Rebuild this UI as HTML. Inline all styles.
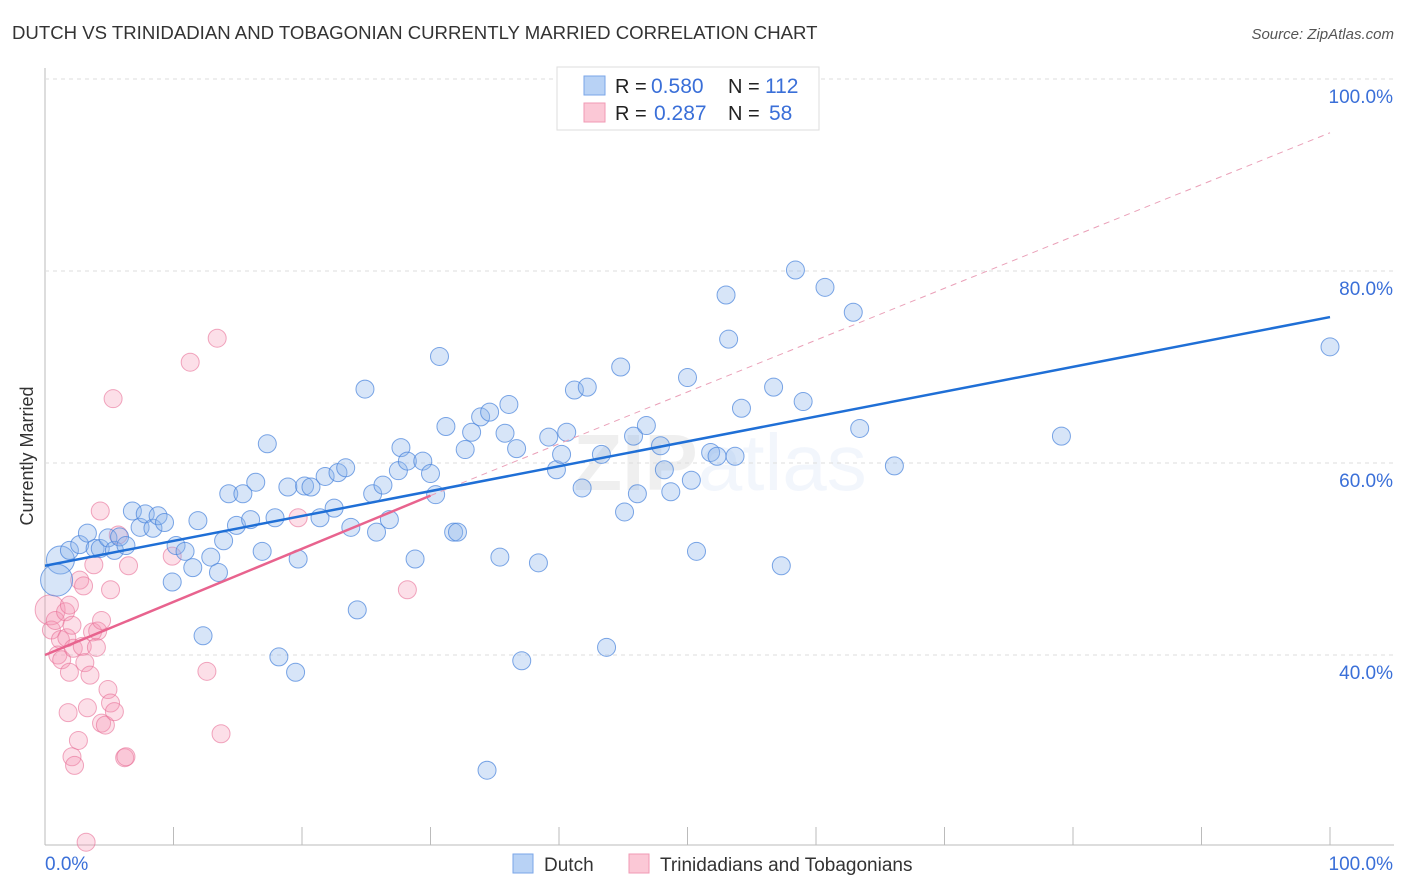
<!DOCTYPE html>
<html><head><meta charset="utf-8"><style>
body{margin:0;background:#fff;font-family:"Liberation Sans",sans-serif;}
svg{display:block}
</style></head><body>
<svg id="chart" width="1406" height="892">
<text x="12" y="39" font-size="18.6" fill="#333">DUTCH VS TRINIDADIAN AND TOBAGONIAN CURRENTLY MARRIED CORRELATION CHART</text>
<text x="1394" y="39" font-size="15" fill="#555" font-style="italic" text-anchor="end">Source: ZipAtlas.com</text>
<text x="33" y="456" font-size="18" fill="#333" text-anchor="middle" transform="rotate(-90 33 456)">Currently Married</text>
<text x="720" y="490" font-size="80" fill="#000" opacity="0.06" text-anchor="middle" font-weight="bold">ZIP<tspan font-weight="normal" fill="#3a6fd8" opacity="1">atlas</tspan></text>
<g id="grid"></g><g id="marks"></g><g id="lines"></g>
<g>
<rect x="557" y="67" width="262" height="63" fill="#fff" stroke="#ddd"/>
<rect x="584" y="76" width="21" height="19" fill="#b8d2f5" stroke="#7aa6e8"/>
<rect x="584" y="103" width="21" height="19" fill="#fbc8d6" stroke="#f09ab4"/>
<text x="615" y="93" font-size="20" fill="#222">R =</text>
<text x="651" y="93" font-size="21" fill="#3a6fd8">0.580</text>
<text x="728" y="93" font-size="20" fill="#222">N =</text>
<text x="765" y="93" font-size="21" fill="#3a6fd8">112</text>
<text x="615" y="120" font-size="20" fill="#222">R =</text>
<text x="654" y="120" font-size="21" fill="#3a6fd8">0.287</text>
<text x="728" y="120" font-size="20" fill="#222">N =</text>
<text x="769" y="120" font-size="21" fill="#3a6fd8">58</text>
</g>
<g>
<rect x="513" y="854" width="20" height="19" fill="#b8d2f5" stroke="#7aa6e8"/>
<text x="544" y="871" font-size="19" fill="#333">Dutch</text>
<rect x="629" y="854" width="20" height="19" fill="#fbc8d6" stroke="#f09ab4"/>
<text x="660" y="871" font-size="19" fill="#333">Trinidadians and Tobagonians</text>
</g>
</svg>
<script>
const dutchX=[1.2,0.9,1.9,2.7,3.3,3.9,4.3,4.9,5.4,5.8,6.3,6.8,7.4,7.8,8.4,8.8,9.3,9.9,10.2,10.9,11.5,11.9,12.3,12.9,13.5,13.9,14.3,14.9,15.4,16.0,16.4,16.9,17.3,17.9,18.2,18.9,19.5,19.7,20.2,20.7,21.4,21.8,22.5,22.8,23.4,23.8,24.3,24.9,25.5,25.8,26.3,26.8,27.5,27.7,28.2,28.8,29.4,30.0,30.4,30.7,31.2,31.8,32.1,32.7,33.2,33.9,34.4,34.6,35.4,35.8,36.1,36.7,37.1,38.4,39.2,39.8,40.2,40.6,41.2,41.8,42.2,43.3,43.7,44.8,45.1,45.8,46.1,46.8,47.9,48.2,48.7,50.0,50.3,50.7,51.8,52.3,53.0,53.2,53.7,54.2,56.7,57.3,58.4,59.0,60.7,62.9,63.4,66.1,79.1,100.0];
const dutchY=[49.9,47.8,50.9,51.5,52.7,51.1,51.1,52.2,50.9,52.3,51.4,55.0,53.3,54.7,53.2,54.5,53.8,47.6,51.4,50.8,49.1,54.0,42.0,50.2,48.6,51.9,56.8,53.5,56.8,54.1,58.0,50.8,62.0,54.3,39.8,57.5,38.2,50.0,57.6,57.5,54.3,58.6,55.3,59.0,59.5,53.3,44.7,67.7,56.8,52.8,57.7,54.1,59.2,61.6,60.2,50.0,60.2,58.9,56.7,71.1,63.8,52.8,52.8,61.4,63.2,64.8,28.0,65.3,50.2,63.1,66.1,61.5,39.4,49.6,62.7,59.3,60.9,63.2,67.6,57.4,67.9,60.9,40.8,70.0,54.9,62.8,56.8,63.9,61.8,59.3,57.0,68.9,58.2,50.8,61.1,60.7,77.5,72.9,60.7,65.7,67.9,49.3,80.1,66.4,78.3,75.7,63.6,59.7,62.8,72.1];
const triniX=[0.4,0.5,0.8,1.2,1.0,1.3,1.6,1.7,1.9,2.1,2.2,1.9,1.8,2.1,2.3,2.6,2.7,2.9,3.0,3.1,3.3,3.5,3.7,3.8,4.0,4.1,4.3,4.4,4.4,4.7,4.9,5.1,5.1,5.3,5.4,5.7,6.2,6.3,6.5,3.2,9.9,11.3,12.6,13.4,13.7,19.7,28.2];
const triniY=[44.7,42.6,43.6,41.6,40.0,39.5,44.5,41.8,45.2,43.1,40.7,38.2,34.0,29.4,28.5,31.1,47.8,40.9,47.2,39.2,34.5,37.9,42.4,49.4,40.8,42.5,55.0,43.6,32.9,32.7,36.4,46.8,35.0,66.7,34.1,52.5,29.3,29.4,49.3,20.5,50.3,70.5,38.3,73.0,31.8,54.3,46.8];
const dutchSize=[14,16];
const triniSize=[15];
const dutchLine=[[0,49.3],[100,75.2]];
const triniLine=[[0,40.0],[30,56.6]];
const triniDash=[[30,56.6],[100,94.4]];
const yTicks=[40,60,80,100];
const xTicks=[0,10,20,30,40,50,60,70,80,90,100];

const NS="http://www.w3.org/2000/svg";
function sx(v){return 45+v*12.85;}
function sy(v){return 79+(100-v)*9.6;}
function mk(tag,attrs,parent){const e=document.createElementNS(NS,tag);for(const k in attrs)e.setAttribute(k,attrs[k]);parent.appendChild(e);return e;}
const grid=document.getElementById('grid'),marks=document.getElementById('marks'),lines=document.getElementById('lines');
let ax=mk('line',{x1:45,y1:68,x2:45,y2:845,stroke:'#bbb'},grid);


let bx=mk('line',{x1:45,y1:845,x2:1394,y2:845,stroke:'#bbb'},grid);


yTicks.forEach(t=>{
 const g=mk('line',{x1:45,y1:sy(t),x2:1394,y2:sy(t),stroke:'#ddd','stroke-dasharray':'4,4'},grid);
 
 
 const l=mk('text',{x:1393,y:sy(t)+24,'font-size':19,fill:'#3a6fd8','text-anchor':'end'},grid);
 l.textContent=t.toFixed(1)+'%';
 
 
});
xTicks.forEach(t=>{
 const g=mk('line',{x1:sx(t),y1:827,x2:sx(t),y2:845,stroke:'#bbb'},grid);
 
 
});
[[0,'0.0%',45,'start'],[100,'100.0%',1393,'end']].forEach(a=>{
 const l=mk('text',{x:a[2],y:870,'font-size':19,fill:'#3a6fd8','text-anchor':a[3]},grid);
 l.textContent=a[1];
 
 
});
triniX.forEach((x,i)=>{
 const c=mk('circle',{cx:sx(x),cy:sy(triniY[i]),r:triniSize[i]||9,fill:'rgba(244,150,180,0.3)',stroke:'rgba(232,110,150,0.6)','stroke-width':1},marks);
 
 
});
dutchX.forEach((x,i)=>{
 const c=mk('circle',{cx:sx(x),cy:sy(dutchY[i]),r:dutchSize[i]||9,fill:'rgba(140,180,235,0.35)',stroke:'rgba(70,130,220,0.7)','stroke-width':1},marks);
 
 
});
let d=mk('line',{x1:sx(triniDash[0][0]),y1:sy(triniDash[0][1]),x2:sx(triniDash[1][0]),y2:sy(triniDash[1][1]),stroke:'#eaa0b8','stroke-dasharray':'6,5'},lines);


let bl=mk('line',{x1:sx(dutchLine[0][0]),y1:sy(dutchLine[0][1]),x2:sx(dutchLine[1][0]),y2:sy(dutchLine[1][1]),stroke:'#1f6fd6','stroke-width':2.5},lines);


let pl=mk('line',{x1:sx(triniLine[0][0]),y1:sy(triniLine[0][1]),x2:sx(triniLine[1][0]),y2:sy(triniLine[1][1]),stroke:'#e8638e','stroke-width':2.5},lines);


</script>
</body></html>
